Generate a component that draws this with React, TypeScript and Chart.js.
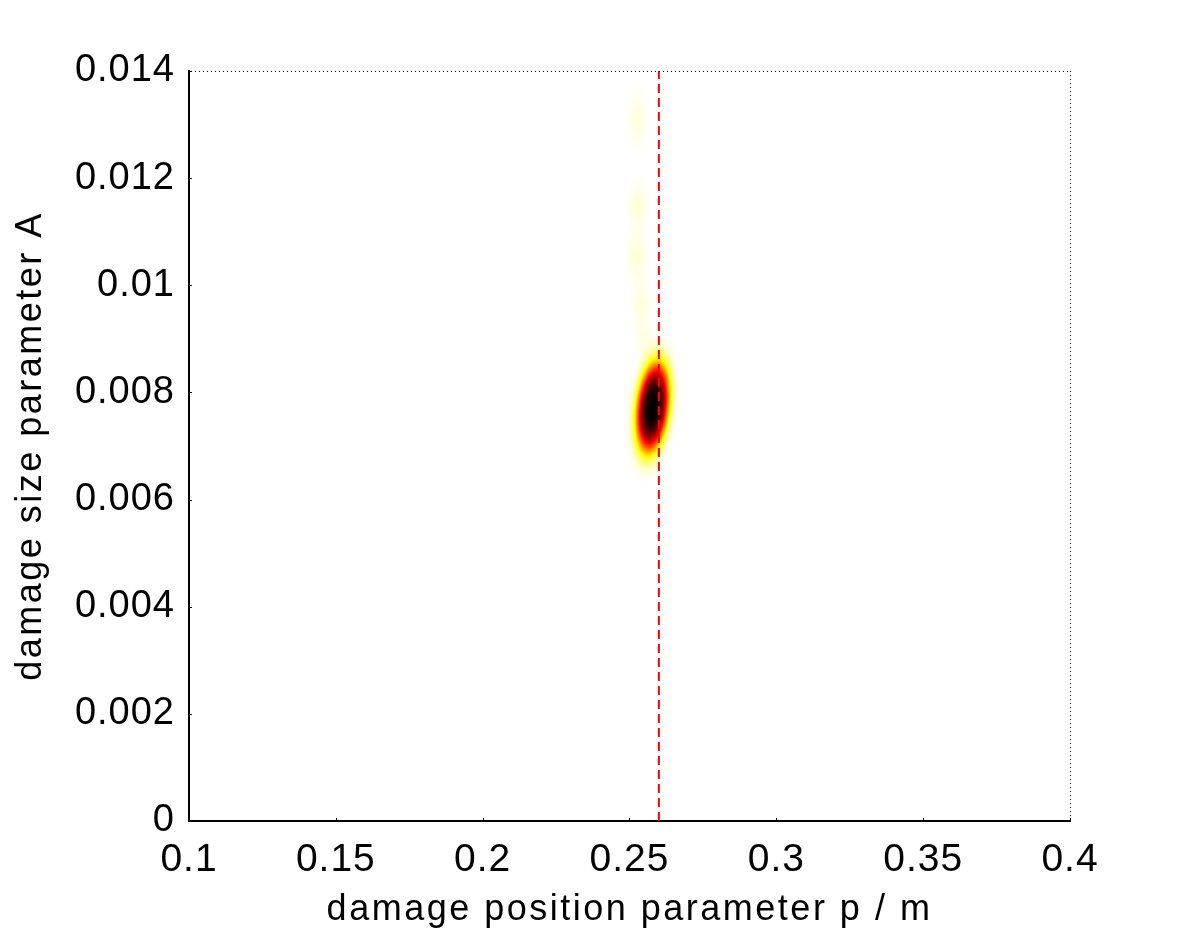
import { useEffect, useRef } from "react";
import { Chart, registerables } from "chart.js";

Chart.register(...registerables);

// ---- axes ----
const xRange = [0.1, 0.4];
const yRange = [0, 0.014];
const xTickValues = [0.1, 0.15, 0.2, 0.25, 0.3, 0.35, 0.4];
const xTickLabels = ["0.1", "0.15", "0.2", "0.25", "0.3", "0.35", "0.4"];
const yTickValues = [0, 0.002, 0.004, 0.006, 0.008, 0.01, 0.012, 0.014];
const yTickLabels = ["0", "0.002", "0.004", "0.006", "0.008", "0.01", "0.012", "0.014"];
const xTitle = "damage position parameter p / m";
const yTitle = "damage size parameter A";

// ---- true damage position (red dashed line) ----
const truePosition = 0.26;

// ---- posterior density: blob components (centre, spread, peak, tilt, shape) ----
const blobCenterX = [0.2579, 0.2529, 0.2529, 0.2527, 0.2541, 0.255];
const blobCenterY = [0.00772, 0.01309, 0.01147, 0.01053, 0.0096, 0.0089];
const blobSpreadX = [0.0044, 0.0019, 0.002, 0.002, 0.0019, 0.0018];
const blobSpreadY = [0.00068, 0.00027, 0.00025, 0.0003, 0.00027, 0.00022];
const blobPeak = [1.0, 0.038, 0.042, 0.042, 0.034, 0.025];
const blobShear = [1.8, 0, 0, 0, 0, 0];
const blobShape = [3.3, 2, 2, 2, 2, 2];

const FONT = "'Liberation Sans', Arial, Helvetica, sans-serif";

function hotReversed(v: number): [number, number, number] {
  const t = 1 - Math.min(1, Math.max(0, v));
  const r = Math.min(1, t / 0.375);
  const g = Math.min(1, Math.max(0, (t - 0.375) / 0.375));
  const b = Math.min(1, Math.max(0, (t - 0.75) / 0.25));
  return [r * 255, g * 255, b * 255];
}

function density(x: number, y: number): number {
  let s = 0;
  for (let k = 0; k < blobCenterX.length; k++) {
    const dy = (y - blobCenterY[k]) / blobSpreadY[k];
    const dx = (x - blobCenterX[k] - blobShear[k] * (y - blobCenterY[k])) / blobSpreadX[k];
    const r2 = dx * dx + dy * dy;
    if (r2 > 60) continue;
    s += blobPeak[k] * Math.exp(-0.5 * Math.pow(r2, blobShape[k] / 2));
  }
  return s;
}

const heatmapPlugin = {
  id: "heatmap",
  beforeDatasetsDraw(chart: any) {
    const ctx = chart.ctx;
    ctx.letterSpacing = "0px";
    const { left, top, right, bottom } = chart.chartArea;
    const w = Math.round(right - left);
    const h = Math.round(bottom - top);
    const off = document.createElement("canvas");
    off.width = w;
    off.height = h;
    const octx = off.getContext("2d")!;
    const img = octx.createImageData(w, h);
    const xs = chart.scales.x;
    const ys = chart.scales.y;
    const xv = new Float64Array(w);
    const yv = new Float64Array(h);
    for (let i = 0; i < w; i++) xv[i] = xs.getValueForPixel(left + i + 0.5);
    for (let j = 0; j < h; j++) yv[j] = ys.getValueForPixel(top + j + 0.5);
    for (let j = 0; j < h; j++) {
      for (let i = 0; i < w; i++) {
        const v = density(xv[i], yv[j]);
        if (v < 0.002) continue;
        const [r, g, b] = hotReversed(v);
        const idx = (j * w + i) * 4;
        img.data[idx] = r;
        img.data[idx + 1] = g;
        img.data[idx + 2] = b;
        img.data[idx + 3] = 255;
      }
    }
    octx.putImageData(img, 0, 0);
    ctx.drawImage(off, left, top);
  },
  afterDatasetsDraw(chart: any) {
    chart.ctx.letterSpacing = "1px";
  },
};

const framePlugin = {
  id: "frame",
  beforeDraw(chart: any) {
    chart.ctx.letterSpacing = "2.5px";
  },
  afterDraw(chart: any) {
    const ctx = chart.ctx;
    ctx.letterSpacing = "0px";
    const { left, top, right, bottom } = chart.chartArea;
    ctx.save();
    ctx.fillStyle = "#000";
    // dotted top and right borders
    for (let x = left + 2; x <= right; x += 4) ctx.fillRect(Math.round(x), Math.round(top), 1, 1);
    for (let y = top; y <= bottom - 2; y += 4) ctx.fillRect(Math.round(right), Math.round(y), 1, 1);
    // small inward tick marks
    ctx.strokeStyle = "#000";
    ctx.lineWidth = 1;
    const xs = chart.scales.x;
    const ys = chart.scales.y;
    ctx.beginPath();
    xTickValues.forEach((v) => {
      const px = Math.round(xs.getPixelForValue(v)) + 0.5;
      ctx.moveTo(px, bottom);
      ctx.lineTo(px, bottom - 3);
    });
    yTickValues.forEach((v) => {
      const py = Math.round(ys.getPixelForValue(v)) + 0.5;
      ctx.moveTo(left, py);
      ctx.lineTo(left + 3, py);
    });
    ctx.stroke();
    ctx.restore();
  },
};

export default function App() {
  const canvasRef = useRef<HTMLCanvasElement | null>(null);

  useEffect(() => {
    document.body.style.margin = "0";
    document.body.style.overflow = "hidden";
    const canvas = canvasRef.current;
    if (!canvas) return;
    const chart = new Chart(canvas, {
      type: "scatter",
      data: {
        datasets: [
          {
            data: [
              { x: truePosition, y: yRange[0] },
              { x: truePosition, y: yRange[1] },
            ],
            showLine: true,
            borderColor: "#ff0000",
            borderWidth: 2,
            borderDash: [9, 5],
            pointRadius: 0,
            fill: false,
          },
        ],
      },
      options: {
        responsive: false,
        animation: false,
        devicePixelRatio: 1,
        layout: { padding: { left: 0, top: 71, right: 112, bottom: 0 } },
        plugins: {
          legend: { display: false },
          tooltip: { enabled: false },
        },
        scales: {
          x: {
            type: "linear",
            min: xRange[0],
            max: xRange[1],
            afterBuildTicks: (scale: any) => {
              scale.ticks = xTickValues.map((v) => ({ value: v }));
            },
            afterFit: (scale: any) => {
              scale.height = 125;
            },
            grid: { display: false, drawTicks: false },
            border: { display: true, color: "#000", width: 2 },
            ticks: {
              z: 1,
              padding: 16,
              color: "#000",
              maxRotation: 0,
              autoSkip: false,
              font: { family: FONT, size: 39 },
              callback: (v: any) => {
                const i = xTickValues.findIndex((t) => Math.abs(t - Number(v)) < 1e-9);
                return i >= 0 ? xTickLabels[i] : "";
              },
            },
            title: {
              display: true,
              text: xTitle,
              color: "#000",
              font: { family: FONT, size: 36 },
              padding: { top: 0, bottom: 14 },
            },
          },
          y: {
            type: "linear",
            min: yRange[0],
            max: yRange[1],
            afterBuildTicks: (scale: any) => {
              scale.ticks = yTickValues.map((v) => ({ value: v }));
            },
            afterFit: (scale: any) => {
              scale.width = 189;
            },
            grid: { display: false, drawTicks: false },
            border: { display: true, color: "#000", width: 2 },
            ticks: {
              z: 1,
              padding: 14,
              color: "#000",
              autoSkip: false,
              font: { family: FONT, size: 38 },
              callback: (v: any) => {
                const i = yTickValues.findIndex((t) => Math.abs(t - Number(v)) < 1e-12);
                return i >= 0 ? yTickLabels[i] : "";
              },
            },
            title: {
              display: true,
              text: yTitle,
              color: "#000",
              font: { family: FONT, size: 36 },
              padding: { top: 9, bottom: 0 },
            },
          },
        },
      },
      plugins: [heatmapPlugin, framePlugin],
    } as any);
    return () => {
      chart.destroy();
    };
  }, []);

  return (
    <div style={{ width: 1182, height: 946, position: "relative", background: "#fff" }}>
      <canvas ref={canvasRef} width={1182} height={946} style={{ display: "block" }} />
    </div>
  );
}
